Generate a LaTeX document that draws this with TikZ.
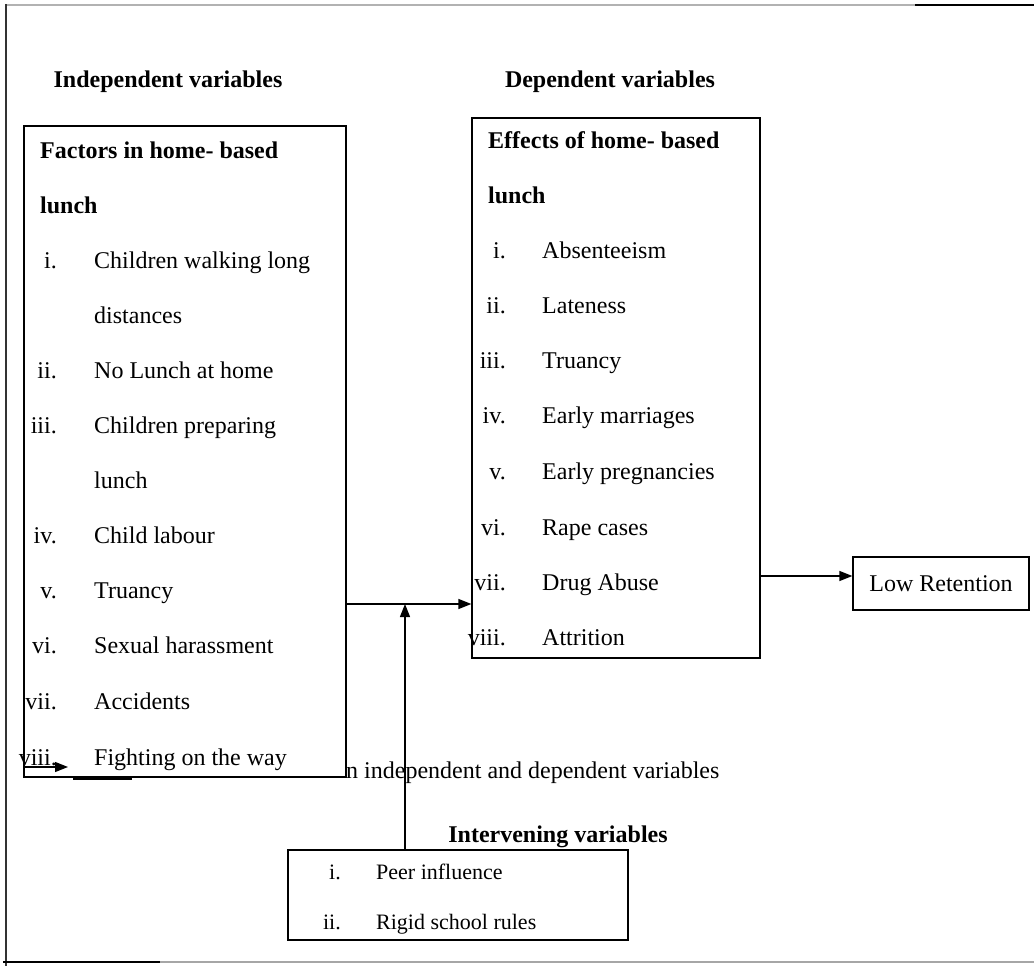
\documentclass[tikz,border=0pt]{standalone}
\usepackage{fontspec}
\setmainfont{Liberation Serif}
\usetikzlibrary{arrows.meta}
\begin{document}
\begin{tikzpicture}[x=1pt,y=-1pt,
 box/.style={draw, line width=1.2pt, fill=white, inner sep=0pt},
 txt/.style={anchor=base west, inner sep=0pt, font=\fontsize{24}{28}\selectfont},
 num/.style={anchor=base east, inner sep=0pt, font=\fontsize{24}{28}\selectfont},
 hd/.style={anchor=base, inner sep=0pt, font=\fontsize{24}{28}\selectfont\bfseries},
 hdl/.style={anchor=base west, inner sep=0pt, font=\fontsize{24}{28}\selectfont\bfseries},
 itxt/.style={anchor=base west, inner sep=0pt, font=\fontsize{22}{26}\selectfont},
 inum/.style={anchor=base east, inner sep=0pt, font=\fontsize{22}{26}\selectfont},
 arr/.style={line width=1.3pt, -{Triangle[length=13pt,width=10pt]}},
 frame/.style={line width=1.5pt}]
\useasboundingbox (0,0) rectangle (1034,966);
% outer frame
\draw[frame, gray!60] (6,5) -- (1034,5);
\draw[frame] (915,5) -- (1034,5);
\draw[frame, black!80] (6,4) -- (6,966);
\draw[frame, gray!70] (3,962) -- (1034,962);
\draw[frame] (3,962) -- (160,962);
% partly hidden caption
\node[txt] (cap) at (346,778) {n independent and dependent variables};
% boxes
\node[box, minimum width=322pt, minimum height=651pt] (indep) at (185,451.5) {};
\node[box, minimum width=288pt, minimum height=540pt] (dep) at (616,388) {};
\node[box, minimum width=176pt, minimum height=53pt] (low) at (941,583.5) {};
\node[box, minimum width=340pt, minimum height=90pt] (interv) at (458,895) {};
% headings
\node[hd] (h1) at (168,88) {Independent variables};
\node[hd] (h2) at (610,88) {Dependent variables};
\node[hd] (h3) at (558,842) {Intervening variables};
% left box text
\node[hdl] (l0) at (40,158) {Factors in home- based};
\node[hdl] (l0b) at (40,213) {lunch};
\node[num] (n1) at (57,268) {i.};   \node[txt] (t1) at (94,268) {Children walking long};
\node[txt] (t1b) at (94,323) {distances};
\node[num] (n2) at (57,378) {ii.};  \node[txt] (t2) at (94,378) {No Lunch at home};
\node[num] (n3) at (57,433) {iii.}; \node[txt] (t3) at (94,433) {Children preparing};
\node[txt] (t3b) at (94,488) {lunch};
\node[num] (n4) at (57,543) {iv.};  \node[txt] (t4) at (94,543) {Child labour};
\node[num] (n5) at (57,598) {v.};   \node[txt] (t5) at (94,598) {Truancy};
\node[num] (n6) at (57,653) {vi.};  \node[txt] (t6) at (94,653) {Sexual harassment};
\node[num] (n7) at (57,709) {vii.}; \node[txt] (t7) at (94,709) {Accidents};
\node[num] (n8) at (57,765) {viii.};\node[txt] (t8) at (94,765) {Fighting on the way};
% right box text
\node[hdl] (r0) at (488,148) {Effects of home- based};
\node[hdl] (r0b) at (488,203) {lunch};
\node[num] (m1) at (506,258) {i.};    \node[txt] (s1) at (542,258) {Absenteeism};
\node[num] (m2) at (506,313) {ii.};   \node[txt] (s2) at (542,313) {Lateness};
\node[num] (m3) at (506,368) {iii.};  \node[txt] (s3) at (542,368) {Truancy};
\node[num] (m4) at (506,423) {iv.};   \node[txt] (s4) at (542,423) {Early marriages};
\node[num] (m5) at (506,479) {v.};    \node[txt] (s5) at (542,479) {Early pregnancies};
\node[num] (m6) at (506,535) {vi.};   \node[txt] (s6) at (542,535) {Rape cases};
\node[num] (m7) at (506,590) {vii.};  \node[txt] (s7) at (542,590) {Drug Abuse};
\node[num] (m8) at (506,645) {viii.}; \node[txt] (s8) at (542,645) {Attrition};
% low retention
\node[font=\fontsize{24}{28}\selectfont] (lowt) at (low) {Low Retention};
% intervening text
\node[inum] (k1) at (341,879) {i.};  \node[itxt] (u1) at (376,879) {Peer influence};
\node[inum] (k2) at (341,929) {ii.}; \node[itxt] (u2) at (376,929) {Rigid school rules};
% connectors
\coordinate (j) at (405,604);
\draw[arr] (indep.east |- j) -- (dep.west |- j);
\draw[arr] (interv.north -| j) -- (j);
\coordinate (o) at (760,576);
\draw[arr] (dep.east |- o) -- (low.west |- o);
% stray arrow and underline
\coordinate (sa) at (24,767);
\coordinate (sb) at (68,767);
\draw[arr] (sa) -- (sb);
\coordinate (ua) at (73,779);
\coordinate (ub) at (132,779);
\draw[line width=1.5pt] (ua) -- (ub);
\end{tikzpicture}
\end{document}
